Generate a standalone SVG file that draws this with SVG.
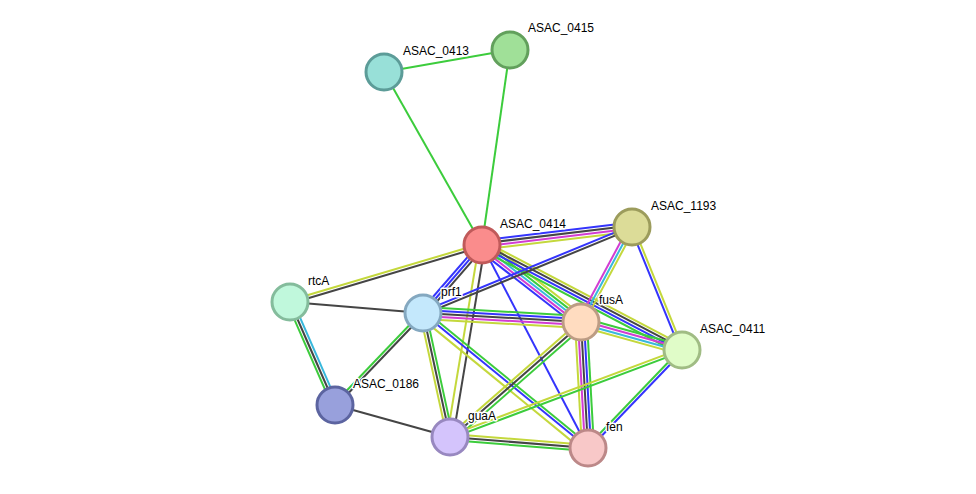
<svg xmlns="http://www.w3.org/2000/svg" width="976" height="494" viewBox="0 0 976 494">
<style>
.e line{stroke-width:2;fill:none}
.g{stroke:#3ccc3c}.b{stroke:#3434fc}.k{stroke:#454545}.m{stroke:#d23cd2}.c{stroke:#38b8dc}.y{stroke:#c4d83c}
.n circle{stroke-width:3}
.n text{font-family:"Liberation Sans",Arial,sans-serif;font-size:12px;fill:#000;stroke:#fff;stroke-width:3px;stroke-linejoin:round;paint-order:stroke}
</style>
<rect width="976" height="494" fill="#fff"/>
<g id="edges" class="e">
<!-- 0413-0415 -->
<g transform="translate(384,72) rotate(-9.90)"><line class="g" x1="0" y1="0" x2="127.9" y2="0"/></g>
<!-- 0413-0414 -->
<g transform="translate(384,72) rotate(60.47)"><line class="g" x1="0" y1="0" x2="198.8" y2="0"/></g>
<!-- 0415-0414 -->
<g transform="translate(510,49) rotate(98.17)"><line class="g" x1="0" y1="0" x2="197" y2="0"/></g>
<!-- 0414-1193 -->
<g transform="translate(482,245) rotate(-6.84)">
<line class="b" x1="0" y1="-4.5" x2="151.1" y2="-4.5"/><line class="k" x1="0" y1="-1.5" x2="151.1" y2="-1.5"/><line class="m" x1="0" y1="1.5" x2="151.1" y2="1.5"/><line class="y" x1="0" y1="4.5" x2="151.1" y2="4.5"/></g>
<!-- 0414-rtcA -->
<g transform="translate(482,245) rotate(163.47)">
<line class="k" x1="0" y1="-1.5" x2="200.3" y2="-1.5"/><line class="y" x1="0" y1="1.5" x2="200.3" y2="1.5"/></g>
<!-- 0414-prf1 -->
<g transform="translate(482,245) rotate(130.95)">
<line class="k" x1="0" y1="-3" x2="90" y2="-3"/><line class="b" x1="0" y1="0" x2="90" y2="0"/><line class="b" x1="0" y1="3" x2="90" y2="3"/></g>
<!-- 0414-fusA -->
<g transform="translate(482,245) rotate(37.88)">
<line class="y" x1="0" y1="-6" x2="125.4" y2="-6"/><line class="g" x1="0" y1="-3" x2="125.4" y2="-3"/><line class="c" x1="0" y1="0" x2="125.4" y2="0"/><line class="m" x1="0" y1="3" x2="125.4" y2="3"/><line class="b" x1="0" y1="6" x2="125.4" y2="6"/></g>
<!-- 0414-0411 -->
<g transform="translate(482,245) rotate(27.70)">
<line class="y" x1="0" y1="-4.5" x2="225.9" y2="-4.5"/><line class="k" x1="0" y1="-1.5" x2="225.9" y2="-1.5"/><line class="b" x1="0" y1="1.5" x2="225.9" y2="1.5"/><line class="g" x1="0" y1="4.5" x2="225.9" y2="4.5"/></g>
<!-- 0414-guaA -->
<g transform="translate(482,245) rotate(99.46)">
<line class="k" x1="0" y1="-3" x2="194.6" y2="-3"/><line class="y" x1="0" y1="3" x2="194.6" y2="3"/></g>
<!-- 0414-fen -->
<g transform="translate(482,245) rotate(62.43)"><line class="b" x1="0" y1="0" x2="229" y2="0"/></g>
<!-- 1193-prf1 -->
<g transform="translate(632,227) rotate(157.63)">
<line class="k" x1="0" y1="-1.5" x2="226" y2="-1.5"/><line class="b" x1="0" y1="1.5" x2="226" y2="1.5"/></g>
<!-- 1193-fusA -->
<g transform="translate(632,227) rotate(118.23)">
<line class="y" x1="0" y1="-3" x2="107.8" y2="-3"/><line class="c" x1="0" y1="0" x2="107.8" y2="0"/><line class="m" x1="0" y1="3" x2="107.8" y2="3"/></g>
<!-- 1193-0411 -->
<g transform="translate(632,227) rotate(67.88)">
<line class="y" x1="0" y1="-1.5" x2="132.8" y2="-1.5"/><line class="b" x1="0" y1="1.5" x2="132.8" y2="1.5"/></g>
<!-- rtcA-prf1 -->
<g transform="translate(290,302) rotate(4.73)"><line class="k" x1="0" y1="0" x2="133.5" y2="0"/></g>
<!-- rtcA-0186 -->
<g transform="translate(290,302) rotate(66.40)">
<line class="c" x1="0" y1="-3" x2="112.4" y2="-3"/><line class="k" x1="0" y1="0" x2="112.4" y2="0"/><line class="g" x1="0" y1="3" x2="112.4" y2="3"/></g>
<!-- prf1-0186 -->
<g transform="translate(423,313) rotate(133.73)">
<line class="k" x1="0" y1="-1.5" x2="127.3" y2="-1.5"/><line class="g" x1="0" y1="1.5" x2="127.3" y2="1.5"/></g>
<!-- prf1-fusA -->
<g transform="translate(423,313) rotate(3.26)">
<line class="g" x1="0" y1="-6" x2="158.3" y2="-6"/><line class="b" x1="0" y1="-3" x2="158.3" y2="-3"/><line class="k" x1="0" y1="0" x2="158.3" y2="0"/><line class="m" x1="0" y1="3" x2="158.3" y2="3"/><line class="y" x1="0" y1="6" x2="158.3" y2="6"/></g>
<!-- prf1-guaA -->
<g transform="translate(423,313) rotate(77.72)">
<line class="g" x1="0" y1="-3" x2="126.9" y2="-3"/><line class="k" x1="0" y1="0" x2="126.9" y2="0"/><line class="y" x1="0" y1="3" x2="126.9" y2="3"/></g>
<!-- prf1-fen -->
<g transform="translate(423,313) rotate(39.29)">
<line class="g" x1="0" y1="-3" x2="213.2" y2="-3"/><line class="b" x1="0" y1="0" x2="213.2" y2="0"/><line class="y" x1="0" y1="5" x2="213.2" y2="5"/></g>
<!-- 0186-guaA -->
<g transform="translate(335,405) rotate(15.55)"><line class="k" x1="0" y1="0" x2="119.4" y2="0"/></g>
<!-- fusA-guaA -->
<g transform="translate(581,322) rotate(138.72)">
<line class="k" x1="0" y1="-1.5" x2="174.3" y2="-1.5"/><line class="y" x1="0" y1="1.5" x2="174.3" y2="1.5"/><line class="g" x1="0" y1="-5" x2="174.3" y2="-5"/></g>
<!-- fusA-fen -->
<g transform="translate(581,322) rotate(86.82)">
<line class="g" x1="0" y1="-6" x2="126.2" y2="-6"/><line class="b" x1="0" y1="-3" x2="126.2" y2="-3"/><line class="k" x1="0" y1="0" x2="126.2" y2="0"/><line class="m" x1="0" y1="3" x2="126.2" y2="3"/><line class="y" x1="0" y1="6" x2="126.2" y2="6"/></g>
<!-- fusA-0411 -->
<g transform="translate(581,322) rotate(15.50)">
<line class="g" x1="0" y1="-4.5" x2="104.8" y2="-4.5"/><line class="m" x1="0" y1="-1.5" x2="104.8" y2="-1.5"/><line class="c" x1="0" y1="1.5" x2="104.8" y2="1.5"/><line class="y" x1="0" y1="4.5" x2="104.8" y2="4.5"/></g>
<!-- 0411-guaA -->
<g transform="translate(682,350) rotate(159.44)">
<line class="g" x1="0" y1="-1.5" x2="247.8" y2="-1.5"/><line class="y" x1="0" y1="1.5" x2="247.8" y2="1.5"/></g>
<!-- 0411-fen -->
<g transform="translate(682,350) rotate(133.81)">
<line class="b" x1="0" y1="-1.5" x2="135.8" y2="-1.5"/><line class="g" x1="0" y1="1.5" x2="135.8" y2="1.5"/></g>
<!-- guaA-fen -->
<g transform="translate(450,437) rotate(4.56)">
<line class="y" x1="0" y1="-3" x2="138.4" y2="-3"/><line class="k" x1="0" y1="0" x2="138.4" y2="0"/><line class="g" x1="0" y1="3" x2="138.4" y2="3"/></g>
</g>
<g id="n-ASAC_0413" class="n"><circle cx="384" cy="72" r="18" fill="#98e0d8" stroke="#5c9c98"/><text x="403" y="55">ASAC_0413</text></g>
<g id="n-ASAC_0415" class="n"><circle cx="510" cy="50" r="18" fill="#a0e098" stroke="#62a05c"/><text x="528" y="32">ASAC_0415</text></g>
<g id="n-ASAC_0414" class="n"><circle cx="482" cy="245" r="18" fill="#fa8c8c" stroke="#c05a5a"/><text x="500" y="228">ASAC_0414</text></g>
<g id="n-ASAC_1193" class="n"><circle cx="632" cy="227" r="18" fill="#dcdc98" stroke="#9c9c5c"/><text x="651" y="210">ASAC_1193</text></g>
<g id="n-rtcA" class="n"><circle cx="290" cy="302" r="18" fill="#c0f8dc" stroke="#84bc9c"/><text x="308" y="285">rtcA</text></g>
<g id="n-prf1" class="n"><circle cx="423" cy="313" r="18" fill="#c4e8fc" stroke="#84a8c0"/><text x="441" y="296">prf1</text></g>
<g id="n-fusA" class="n"><circle cx="581" cy="322" r="18" fill="#ffdcc0" stroke="#bc9c84"/><text x="599" y="304">fusA</text></g>
<g id="n-ASAC_0411" class="n"><circle cx="682" cy="350" r="18" fill="#e0fcc8" stroke="#a0bc84"/><text x="700" y="333">ASAC_0411</text></g>
<g id="n-ASAC_0186" class="n"><circle cx="335" cy="405" r="18" fill="#98a0dc" stroke="#5c64a0"/><text x="353" y="388">ASAC_0186</text></g>
<g id="n-guaA" class="n"><circle cx="450" cy="437" r="18" fill="#d4c4fc" stroke="#9888c0"/><text x="468" y="420">guaA</text></g>
<g id="n-fen" class="n"><circle cx="588" cy="448" r="18" fill="#f8c8c8" stroke="#bc8888"/><text x="606" y="431">fen</text></g>
</svg>
